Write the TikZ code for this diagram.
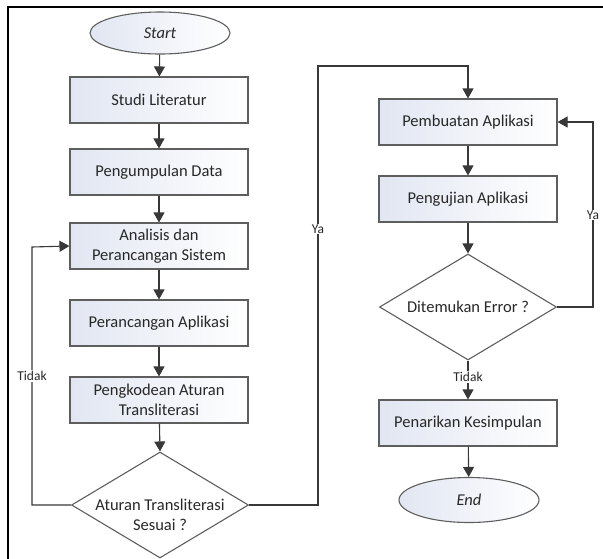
\documentclass[tikz,border=0pt]{standalone}
\usepackage{fontspec}
\setmainfont{Carlito}
\usetikzlibrary{shapes.geometric,arrows.meta}
\definecolor{txt}{HTML}{282828}
\definecolor{edge}{HTML}{5E5E5E}
\definecolor{ln}{HTML}{383838}
\definecolor{shadeL}{HTML}{E1E6F2}
\tikzset{
  procbox/.style={rectangle, draw=edge, line width=1.1pt, left color=shadeL, right color=white,
    minimum width=178pt, minimum height=46pt, inner sep=0pt, text=txt,
    font=\fontsize{16.5}{20}\selectfont, align=center},
  termbox/.style={ellipse, draw=edge, line width=1.1pt, left color=shadeL, right color=white,
    minimum width=140pt, minimum height=42pt, inner sep=0pt, text=txt,
    font=\fontsize{16.5}{20}\selectfont\itshape},
  decbox/.style={diamond, draw=edge, line width=1.1pt, fill=white,
    minimum width=177pt, minimum height=106pt, inner sep=0pt},
  dectext/.style={text=txt, font=\fontsize{16.5}{20}\selectfont, align=center, inner sep=0pt},
  arr/.style={draw=ln, line width=1.1pt, -{Triangle[length=10pt,width=11pt]}},
  lbl/.style={fill=white, text=txt, font=\fontsize{13.5}{14}\selectfont, inner sep=1pt}
}
\begin{document}
\begin{tikzpicture}[x=1pt,y=-1pt]
\useasboundingbox (0,0) rectangle (603,558);
\fill[white] (0,0) rectangle (603,558);
% outer frame
\draw[line width=2pt, black] (8,560) -- (8,7) -- (605,7);

% left column
\node[termbox] (start) at (160,33) {Start};
\node[procbox] (s1) at (159,100) {Studi Literatur};
\node[procbox] (s2) at (159,172) {Pengumpulan Data};
\node[procbox] (s3) at (159,246) {Analisis dan\\Perancangan Sistem};
\node[procbox] (s4) at (159,323) {Perancangan Aplikasi};
\node[procbox] (s5) at (159,400) {Pengkodean Aturan\\Transliterasi};
\node[decbox] (d1) at (160,505) {};
\node[dectext] (d1t) at (160,515) {Aturan Transliterasi\\Sesuai ?};

% right column
\node[procbox] (p1) at (468,122) {Pembuatan Aplikasi};
\node[procbox] (p2) at (468,199) {Pengujian Aplikasi};
\node[decbox] (d2) at (468,307) {};
\node[dectext] (d2t) at (468,307) {Ditemukan Error ?};
\node[procbox] (p3) at (468,423) {Penarikan Kesimpulan};
\node[termbox, minimum height=45pt] (end) at (469,500) {End};

\coordinate (ya1) at (318,66);
\coordinate (yr) at (593,307);
\coordinate (tl) at (32,247);

% connectors
\draw[arr] (start) -- (s1);
\draw[arr] (s1) -- (s2);
\draw[arr] (s2) -- (s3);
\draw[arr] (s3) -- (s4);
\draw[arr] (s4) -- (s5);
\draw[arr] (s5) -- (d1.north);
\draw[arr] (d1.west) -| (tl) -- (s3.west);
\draw[arr] (d1.east) -| (ya1) -| (p1.north);
\draw[arr] (p1) -- (p2);
\draw[arr] (p2) -- (d2.north);
\draw[arr] (d2.east) -- (yr) |- (p1.east);
\draw[arr] (d2.south) -- (p3.north);
\draw[arr] (p3) -- (end);

% labels
\node[lbl] (lt1) at (32,376) {Tidak};
\node[lbl] (ly1) at (318,229) {Ya};
\node[lbl] (ly2) at (593,215) {Ya};
\node[lbl] (lt2) at (468,377) {Tidak};
\end{tikzpicture}
\end{document}
